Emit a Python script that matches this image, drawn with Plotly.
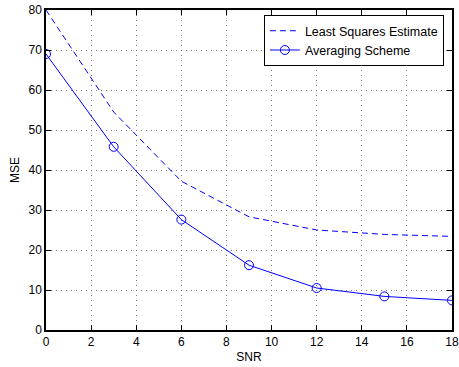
import plotly.graph_objects as go

snr = [0, 3, 6, 9, 12, 15, 18]
ls_mse = [80, 54.5, 37.2, 28.3, 25.0, 23.9, 23.4]
avg_mse = [69, 45.8, 27.6, 16.2, 10.5, 8.4, 7.4]
x_ticks = [0, 2, 4, 6, 8, 10, 12, 14, 16, 18]
y_ticks = [0, 10, 20, 30, 40, 50, 60, 70, 80]

blue = "#0000ff"
font_family = "Liberation Sans, Arial"
fig = go.Figure()
fig.add_trace(go.Scatter(x=snr, y=ls_mse, mode="lines", name="Least Squares Estimate",
                         line=dict(color=blue, width=1, dash="6px,4px")))
fig.add_trace(go.Scatter(x=snr, y=avg_mse, mode="lines+markers", name="Averaging Scheme",
                         line=dict(color=blue, width=1),
                         marker=dict(symbol="circle-open", size=9, color=blue, line=dict(width=1, color=blue))))

axis_common = dict(showline=True, linecolor="black", linewidth=1.5, mirror="allticks",
                   ticks="inside", ticklen=5, tickcolor="black", automargin=False,
                   showgrid=True, gridcolor="#777777", griddash="1px,4px", gridwidth=1,
                   zeroline=False, tickfont=dict(family=font_family, size=12, color="black"))

fig.update_xaxes(range=[0, 18], tickvals=x_ticks, title=dict(text="SNR", standoff=4,
                 font=dict(family=font_family, size=12, color="black")), **axis_common)
fig.update_yaxes(range=[0, 80], tickvals=y_ticks, title=dict(text="MSE", standoff=6,
                 font=dict(family=font_family, size=12, color="black")), **axis_common)

fig.update_layout(width=459, height=367, margin=dict(l=46, r=7, t=10, b=37),
                  paper_bgcolor="white", plot_bgcolor="white", showlegend=True,
                  legend=dict(x=0.98, y=0.984, xanchor="right", yanchor="top",
                              bgcolor="white", bordercolor="black", borderwidth=1,
                              font=dict(family=font_family, size=12.5, color="black"),
                              tracegroupgap=0, itemwidth=30))

fig.write_html("out.html")
